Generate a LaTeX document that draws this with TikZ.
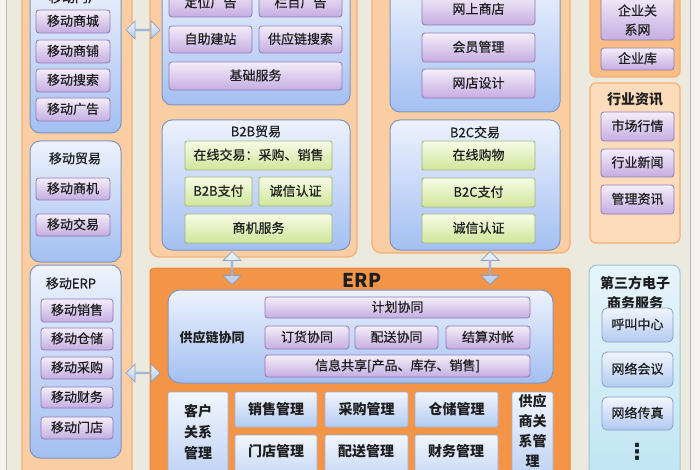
\documentclass[tikz,border=0pt]{standalone}
\usepackage{fontspec}
\setmainfont{Noto Sans CJK SC}
\newfontfamily\cjkm{Noto Sans CJK SC}[FakeBold=0.6]
\newfontfamily\dejavu{DejaVu Sans}
\usetikzlibrary{shapes.arrows}
\definecolor{bgc}{HTML}{ECE9DF}
\definecolor{strip}{HTML}{F4F3EF}
\definecolor{lineg}{HTML}{B9B7AE}
\definecolor{ofill}{HTML}{FACDA3}
\definecolor{odraw}{HTML}{F5AE74}
\definecolor{ofill2}{HTML}{F8BE86}
\definecolor{ofill3}{HTML}{FCDCBA}
\definecolor{erpfill}{HTML}{F39446}
\definecolor{erpdraw}{HTML}{EC8634}
\definecolor{btop}{HTML}{EDF2FD}
\definecolor{bbot}{HTML}{A3BFF2}
\definecolor{bdraw}{HTML}{7F95C0}
\definecolor{ptop}{HTML}{F4EEF9}
\definecolor{pbot}{HTML}{C5ADE2}
\definecolor{pdraw}{HTML}{8F7AB2}
\definecolor{gtop}{HTML}{F6FBE6}
\definecolor{gbot}{HTML}{D0E69A}
\definecolor{gdraw}{HTML}{9FB57A}
\definecolor{etop}{HTML}{F2F6FD}
\definecolor{ebot}{HTML}{B3CAF2}
\definecolor{edraw}{HTML}{9DB2DA}
\definecolor{ctop}{HTML}{E6F5FA}
\definecolor{cbot}{HTML}{BDE3F3}
\definecolor{cdraw}{HTML}{9EC4D4}
\definecolor{txt}{HTML}{1E1E1E}
\definecolor{atop}{HTML}{EEF4FC}
\definecolor{abot}{HTML}{B2C9EA}
\definecolor{adraw}{HTML}{869FC4}
\newcommand\mybox[7]{\node[#1,minimum width={(#5-#3)*1pt},minimum height={(#6-#4)*1pt}] (#2) at ({(#3+#5)/2},{(#4+#6)/2}) {#7};}
\begin{document}
\begin{tikzpicture}[x=1pt,y=-1pt,
  base/.style={inner sep=0pt,outer sep=0pt,text=txt,font=\cjkm\fontsize{13}{15}\selectfont},
  one/.style={text height=10pt,text depth=1.5pt},
  multi/.style={base,align=center},
  obox/.style={inner sep=0pt,rounded corners=9pt,draw=odraw,line width=1.2pt,fill=ofill},
  bbox/.style={inner sep=0pt,rounded corners=10pt,draw=bdraw,line width=1pt,top color=btop,bottom color=bbot},
  pbtn/.style={base,one,rounded corners=3pt,draw=pdraw,line width=0.8pt,top color=ptop,bottom color=pbot},
  gbtn/.style={base,one,rounded corners=2pt,draw=gdraw,line width=0.8pt,top color=gtop,bottom color=gbot},
  ebtn/.style={base,font=\fontsize{14}{21}\selectfont\bfseries,text height=11pt,text depth=1.5pt,rounded corners=2pt,draw=edraw,line width=0.6pt,top color=etop,bottom color=ebot},
  cbtn/.style={base,one,rounded corners=5pt,draw=adraw,line width=0.8pt,top color=etop,bottom color=ebot},
  ttl/.style={base,one},
  bttl/.style={base,align=center,font=\fontsize{14}{20}\selectfont\bfseries},
  darrow/.style={double arrow,draw=adraw,line width=0.7pt,top color=atop,bottom color=abot,
    minimum height=34pt,minimum width=18pt,double arrow head extend=3.5pt,inner sep=0pt}]
\useasboundingbox (0,0) rectangle (700,470);
\clip (0,0) rectangle (700,470);
% background
\fill[bgc] (0,0) rectangle (700,470);
\fill[strip] (0,0) rectangle (6,470);
\fill[strip] (691,0) rectangle (700,470);
\draw[lineg,line width=1pt] (6.5,0) -- (6.5,470);
\draw[lineg,line width=1pt] (690.5,0) -- (690.5,470);

% ---------------- left column ----------------
\mybox{obox}{lcol}{22}{-20}{132}{495}{}
\mybox{bbox}{portal}{30}{-20}{121}{133}{}
\node[ttl] (portalT) at (75,-2) {移动门户};
\mybox{pbtn}{m1}{36}{10}{110}{33}{移动商城}
\mybox{pbtn}{m2}{36}{40}{110}{63}{移动商铺}
\mybox{pbtn}{m3}{36}{69}{110}{92}{移动搜索}
\mybox{pbtn}{m4}{36}{98}{110}{121}{移动广告}

\mybox{bbox}{trade}{30}{141}{121}{262}{}
\node[ttl] (tradeT) at (75,159) {移动贸易};
\mybox{pbtn}{t1}{36}{178}{110}{200}{移动商机}
\mybox{pbtn}{t2}{36}{214}{110}{236}{移动交易}

\mybox{bbox}{merp}{30}{265}{121}{458}{}
\node[ttl] (merpT) at (71,284) {移动ERP};
\mybox{pbtn}{e1}{41}{299}{113}{322}{移动销售}
\mybox{pbtn}{e2}{41}{328}{113}{350}{移动仓储}
\mybox{pbtn}{e3}{41}{357}{113}{379}{移动采购}
\mybox{pbtn}{e4}{41}{387}{113}{408}{移动财务}
\mybox{pbtn}{e5}{41}{417}{113}{439}{移动门店}

% ---------------- middle left (B2B) ----------------
\mybox{obox}{b2bpanel}{150}{-20}{357}{257}{}
\mybox{bbox}{basic}{162}{-20}{350}{105}{}
\mybox{pbtn}{s1}{169}{-11}{252}{17}{定位广告}
\mybox{pbtn}{s2}{259}{-11}{342}{17}{栏目广告}
\mybox{pbtn}{s3}{169}{26}{252}{53}{自助建站}
\mybox{pbtn}{s4}{259}{26}{342}{53}{供应链搜索}
\mybox{pbtn}{s5}{169}{62}{342}{90}{基础服务}

\mybox{bbox}{b2b}{162}{120}{350}{250}{}
\node[ttl] (b2bT) at (256,132) {B2B贸易};
\mybox{gbtn}{g1}{185}{141}{332}{170}{在线交易：采购、销售}
\mybox{gbtn}{g2}{185}{177}{252}{206}{B2B支付}
\mybox{gbtn}{g3}{259}{177}{332}{206}{诚信认证}
\mybox{gbtn}{g4}{185}{214}{332}{243}{商机服务}

% ---------------- middle right (B2C) ----------------
\mybox{obox}{b2cpanel}{372}{-20}{570}{253}{}
\mybox{bbox}{shop}{390}{-20}{560}{112}{}
\mybox{pbtn}{c1}{422}{-6}{535}{25}{网上商店}
\mybox{pbtn}{c2}{422}{33}{535}{62}{会员管理}
\mybox{pbtn}{c3}{422}{69}{535}{98}{网店设计}

\mybox{bbox}{b2c}{390}{120}{560}{250}{}
\node[ttl] (b2cT) at (475,133) {B2C交易};
\mybox{gbtn}{h1}{422}{141}{535}{170}{在线购物}
\mybox{gbtn}{h2}{422}{178}{535}{207}{B2C支付}
\mybox{gbtn}{h3}{422}{214}{535}{243}{诚信认证}

% ---------------- right column ----------------
\mybox{obox,fill=ofill2,rounded corners=6pt}{entpanel}{590}{-20}{680}{77}{}
\mybox{pbtn}{r1}{601}{-6}{674}{40}{}
\node[multi,font=\cjkm\fontsize{13}{19}\selectfont] (r1T) at (637.5,20) {企业关\\系网};
\mybox{pbtn}{r2}{601}{48}{674}{70}{企业库}

\mybox{obox,fill=ofill3,rounded corners=6pt}{newspanel}{590}{83}{680}{243}{}
\node[bttl,text height=11pt,text depth=1.5pt] (newsT) at (635,100) {行业资讯};
\mybox{pbtn}{n1}{601}{112}{674}{141}{市场行情}
\mybox{pbtn}{n2}{601}{149}{674}{177}{行业新闻}
\mybox{pbtn}{n3}{601}{185}{674}{214}{管理资讯}

\mybox{bbox,top color=ctop,bottom color=cbot,draw=cdraw,rounded corners=8pt}{third}{589}{265}{680}{495}{}
\node[bttl] (thirdT) at (635,293) {第三方电子\\商务服务};
\mybox{cbtn}{k1}{602}{308}{673}{342}{呼叫中心}
\mybox{cbtn}{k2}{602}{352}{673}{387}{网络会议}
\mybox{cbtn}{k3}{602}{397}{673}{430}{网络传真}
\node[base,font=\dejavu\fontsize{22}{22}\selectfont\bfseries] (kdots) at (637,452) {⋮};

% ---------------- ERP ----------------
\mybox{inner sep=0pt,rounded corners=4pt,draw=erpdraw,line width=1pt,fill=erpfill}{erp}{150}{268}{570}{495}{}
\node[base,font=\fontsize{19}{20}\selectfont\bfseries,text height=14pt,text depth=0pt] (erpT) at (362,280) {ERP};
\mybox{bbox,rounded corners=12pt}{scm}{168}{290}{553}{383}{}
\node[base,one,font=\fontsize{13}{15}\selectfont\bfseries] (scmT) at (212,338) {供应链协同};
\mybox{pbtn}{q1}{265}{297}{530}{318}{计划协同}
\mybox{pbtn}{q2}{265}{326}{349}{349}{订货协同}
\mybox{pbtn}{q3}{355}{326}{438}{349}{配送协同}
\mybox{pbtn}{q4}{446}{326}{530}{349}{结算对帐}
\mybox{pbtn}{q5}{265}{355}{530}{377}{信息共享[产品、库存、销售]}

\mybox{ebtn}{crm}{168}{392}{228}{495}{}
\node[multi,font=\fontsize{14}{21}\selectfont\bfseries] (crmT) at (198,432) {客户\\关系\\管理};
\mybox{ebtn}{x1}{235}{392}{317}{427}{销售管理}
\mybox{ebtn}{x2}{325}{392}{408}{427}{采购管理}
\mybox{ebtn}{x3}{415}{392}{498}{427}{仓储管理}
\mybox{ebtn}{x4}{235}{435}{317}{495}{}
\node[base,font=\fontsize{14}{21}\selectfont\bfseries,text height=11pt,text depth=1.5pt] (x4T) at (276,452) {门店管理};
\mybox{ebtn}{x5}{325}{435}{408}{495}{}
\node[base,font=\fontsize{14}{21}\selectfont\bfseries,text height=11pt,text depth=1.5pt] (x5T) at (366,452) {配送管理};
\mybox{ebtn}{x6}{415}{435}{498}{495}{}
\node[base,font=\fontsize{14}{21}\selectfont\bfseries,text height=11pt,text depth=1.5pt] (x6T) at (456,452) {财务管理};
\mybox{ebtn}{srm}{512}{392}{553}{495}{}
\node[multi,font=\fontsize{14}{20}\selectfont\bfseries] (srmT) at (532.5,431) {供应\\商关\\系管\\理};

% ---------------- block arrows ----------------
\node[darrow] (a1) at (143,30) {};
\node[darrow] (a2) at (143,373) {};
\node[darrow,rotate=90,minimum height=33pt] (a3) at (232,268) {};
\node[darrow,rotate=90,minimum height=33pt] (a4) at (490,268) {};
\end{tikzpicture}
\end{document}
